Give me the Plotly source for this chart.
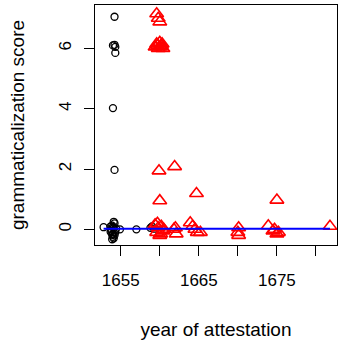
import plotly.graph_objects as go

# Black circles (earlier attestation group)
circ_x = [1654.2, 1654.0, 1654.2, 1654.3, 1654.3, 1654.0, 1654.2,
          1652.8, 1653.7, 1653.8, 1653.9, 1654.0, 1654.1, 1654.2, 1653.8, 1654.0,
          1654.3, 1654.1, 1653.9, 1654.2, 1654.4, 1654.0, 1653.7, 1654.1, 1653.9,
          1654.9, 1657.0, 1658.8, 1659.0, 1659.3]
circ_y = [7.05, 6.1, 6.12, 6.05, 5.85, 4.02, 1.97,
          0.07, 0.1, -0.05, 0.12, -0.15, 0.05, -0.2, 0.0, 0.08,
          -0.1, -0.3, -0.18, 0.2, 0.02, -0.25, -0.08, 0.25, -0.33,
          0.0, 0.0, 0.05, 0.1, 0.02]

# Red triangles (later attestation group)
tri_x = [1659.6, 1659.8, 1660.0,
         1659.4, 1659.6, 1659.8, 1660.0, 1660.2, 1660.4, 1659.7, 1660.1, 1660.3,
         1659.9, 1661.9, 1660.0, 1664.7, 1675.0,
         1659.4, 1659.6, 1659.8, 1660.0, 1660.2, 1660.4, 1659.7, 1660.1, 1660.5,
         1661.8, 1662.0, 1662.1, 1663.9, 1664.2, 1664.5, 1664.8, 1665.2,
         1670.1, 1670.0, 1670.1, 1673.9, 1674.5, 1674.7, 1675.0, 1675.2, 1681.8]
tri_y = [7.15, 7.0, 6.88,
         6.05, 6.15, 6.0, 6.2, 6.1, 6.0, 6.1, 6.05, 6.15,
         1.94, 2.08, 0.95, 1.19, 0.97,
         0.15, -0.1, 0.05, -0.2, 0.1, -0.05, 0.2, -0.15, 0.0,
         0.0, 0.05, -0.15, 0.22, 0.1, 0.0, -0.1, -0.1,
         0.05, -0.1, -0.2, 0.12, -0.05, 0.0, -0.15, -0.1, 0.1]

# Fitted line
line_x = [1652.8, 1681.8]
line_y = [0.02, 0.02]

x_ticks = [1655, 1660, 1665, 1670, 1675, 1680]
x_ticktext = ["1655", "", "1665", "", "1675", ""]
y_ticks = [0, 2, 4, 6]

FONT = "Liberation Sans, Arial, sans-serif"

fig = go.Figure()
fig.add_trace(go.Scatter(
    x=circ_x, y=circ_y, mode="markers",
    marker=dict(symbol="circle-open", size=7, color="black", line=dict(width=1.3, color="black")),
    showlegend=False))
fig.add_trace(go.Scatter(
    x=tri_x, y=tri_y, mode="markers",
    marker=dict(symbol="triangle-up-open", size=12, color="#FF0000", line=dict(width=1.6, color="#FF0000")),
    showlegend=False))
fig.add_trace(go.Scatter(
    x=line_x, y=line_y, mode="lines",
    line=dict(color="#0000FF", width=2),
    showlegend=False))

fig.update_layout(
    width=342, height=342,
    margin=dict(l=95, r=5, t=5, b=97),
    paper_bgcolor="white", plot_bgcolor="white",
    font=dict(family=FONT, size=17, color="black"),
    xaxis=dict(
        range=[1651.7, 1682.7], tickvals=x_ticks, ticktext=x_ticktext,
        showgrid=False, zeroline=False,
        showline=True, mirror=True, linecolor="black", linewidth=1,
        ticks="outside", ticklen=10, tickwidth=1, tickcolor="black",
        ticklabelstandoff=10,
        tickfont=dict(family=FONT, size=17),
        title=dict(text="year of attestation", font=dict(family=FONT, size=19), standoff=33),
    ),
    yaxis=dict(
        range=[-0.52, 7.44], tickvals=y_ticks,
        showgrid=False, zeroline=False,
        showline=True, mirror=True, linecolor="black", linewidth=1,
        ticks="outside", ticklen=10, tickwidth=1, tickcolor="black",
        tickangle=-90, ticklabelstandoff=6,
        tickfont=dict(family=FONT, size=17),
        title=dict(text="grammaticalization score", font=dict(family=FONT, size=19), standoff=26),
    ),
)

fig.write_html("out.html")
